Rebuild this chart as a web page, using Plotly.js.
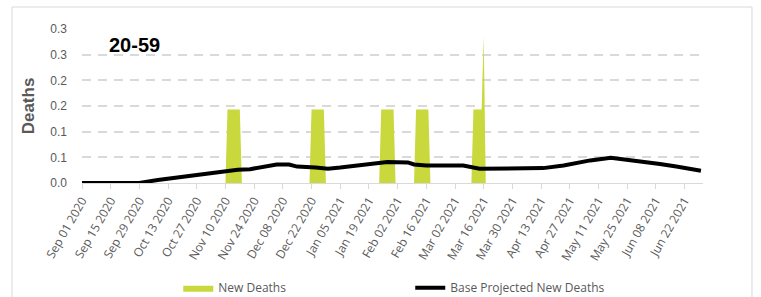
<!DOCTYPE html>
<html>
<head>
<meta charset="utf-8">
<script src="https://cdn.plot.ly/plotly-3.0.1.min.js"></script>
<style>
  html, body { margin: 0; padding: 0; background: #ffffff; }
  #chart { width: 761px; height: 297px; }
</style>
</head>
<body>
<div id="chart"></div>
<script>
// ---- data ----
var deathDates = ['2020-09-01','2020-11-10','2020-11-11','2020-11-17','2020-11-18',
                  '2020-12-21','2020-12-22','2020-12-28','2020-12-29',
                  '2021-01-24','2021-01-25','2021-01-31','2021-02-01',
                  '2021-02-10','2021-02-11','2021-02-17','2021-02-18',
                  '2021-03-10','2021-03-11','2021-03-15','2021-03-16','2021-03-17','2021-06-30'];
var deathValues = [0, 0, 0.143, 0.143, 0,
                   0, 0.143, 0.143, 0,
                   0, 0.143, 0.143, 0,
                   0, 0.143, 0.143, 0,
                   0, 0.143, 0.143, 0.286, 0, 0];

var projDates = ['2020-09-01','2020-09-29','2020-10-08','2020-10-18','2020-10-27','2020-11-06',
                 '2020-11-16','2020-11-22','2020-11-28','2020-12-05','2020-12-11','2020-12-15',
                 '2020-12-24','2020-12-30','2021-01-05','2021-01-13','2021-01-19','2021-01-28',
                 '2021-02-07','2021-02-10','2021-02-16','2021-03-06','2021-03-14','2021-04-14',
                 '2021-04-24','2021-04-30','2021-05-07','2021-05-17','2021-05-25','2021-06-02',
                 '2021-06-10','2021-06-18','2021-06-30'];
var projValues = [0, 0, 0.006, 0.011, 0.017, 0.021,
                  0.026, 0.027, 0.031, 0.036, 0.036, 0.032,
                  0.030, 0.028, 0.030, 0.034, 0.037, 0.041,
                  0.040, 0.036, 0.034, 0.034, 0.028, 0.029,
                  0.034, 0.039, 0.044, 0.049, 0.045, 0.042,
                  0.037, 0.032, 0.024];

var xTickDates = ['2020-09-01','2020-09-15','2020-09-29','2020-10-13','2020-10-27','2020-11-10',
                  '2020-11-24','2020-12-08','2020-12-22','2021-01-05','2021-01-19','2021-02-02',
                  '2021-02-16','2021-03-02','2021-03-16','2021-03-30','2021-04-13','2021-04-27',
                  '2021-05-11','2021-05-25','2021-06-08','2021-06-22'];
var yTickValues = [0, 0.05, 0.1, 0.15, 0.2, 0.25, 0.3];
var yTickLabels = ['0.0','0.1','0.1','0.2','0.2','0.3','0.3'];

var chartTitle = '20-59';
var yTitle = 'Deaths';
var seriesNames = ['New Deaths', 'Base Projected New Deaths'];

// ---- styling ----
var gray = '#595959';
var gridGray = '#d9d9d9';

var traces = [
  {
    x: deathDates, y: deathValues, name: seriesNames[0],
    type: 'scatter', mode: 'lines', fill: 'tozeroy',
    fillcolor: '#c9d83c', line: {width: 0, color: '#c9d83c'},
    hoverinfo: 'skip'
  },
  {
    x: projDates, y: projValues, name: seriesNames[1],
    type: 'scatter', mode: 'lines',
    line: {width: 4, color: '#000000'},
    hoverinfo: 'skip'
  }
];

var layout = {
  width: 761, height: 297,
  margin: {l: 82, r: 58, t: 29, b: 114, pad: 0, autoexpand: false},
  paper_bgcolor: '#ffffff', plot_bgcolor: '#ffffff',
  font: {family: 'Open Sans, Liberation Sans, sans-serif', color: gray, size: 12},
  showlegend: true,
  legend: {
    orientation: 'h', x: 0.155, xanchor: 'left', y: -0.68, yanchor: 'middle',
    entrywidth: 187, entrywidthmode: 'pixels',
    font: {family: 'Open Sans, Liberation Sans, sans-serif', size: 12, color: gray},
    bgcolor: 'rgba(0,0,0,0)'
  },
  xaxis: {
    type: 'date', automargin: false,
    range: ['2020-09-01', '2021-07-01'],
    tickmode: 'array', tickvals: xTickDates, tickformat: '%b %d %Y',
    tickangle: -60,
    tickfont: {family: 'Open Sans, Liberation Sans, sans-serif', size: 12, color: gray},
    ticks: 'outside', ticklen: 5, tickcolor: gridGray, tickwidth: 1,
    showline: true, linecolor: gridGray, linewidth: 1,
    showgrid: false, zeroline: false, fixedrange: true
  },
  yaxis: {
    range: [0, 0.3], automargin: false,
    tickmode: 'array', tickvals: yTickValues, ticktext: yTickLabels,
    tickfont: {family: 'Liberation Sans, Arial, sans-serif', size: 12, color: gray},
    ticks: '', ticklabelstandoff: 14,
    showgrid: true, gridcolor: gridGray, gridwidth: 2, griddash: '9px,7px',
    zeroline: false, showline: false,
    title: {text: yTitle, standoff: 11,
            font: {family: 'Liberation Sans, Arial, sans-serif', size: 17, color: gray, weight: 'bold'}},
    fixedrange: true
  },
  annotations: [
    {text: '<b>' + chartTitle + '</b>', xref: 'paper', yref: 'paper',
     x: 0.040, y: 0.896, xanchor: 'left', yanchor: 'middle', showarrow: false,
     font: {family: 'Liberation Sans, Arial, sans-serif', size: 20, color: '#000000'}}
  ],
  shapes: [
    {type: 'rect', xref: 'paper', yref: 'paper',
     x0: -0.1127, x1: 1.0789, y0: -0.77, y1: 1.1429,
     line: {color: '#d9d9d9', width: 1}, fillcolor: 'rgba(0,0,0,0)', layer: 'below'}
  ]
};

Plotly.newPlot('chart', traces, layout, {staticPlot: true, displayModeBar: false});
</script>
</body>
</html>
